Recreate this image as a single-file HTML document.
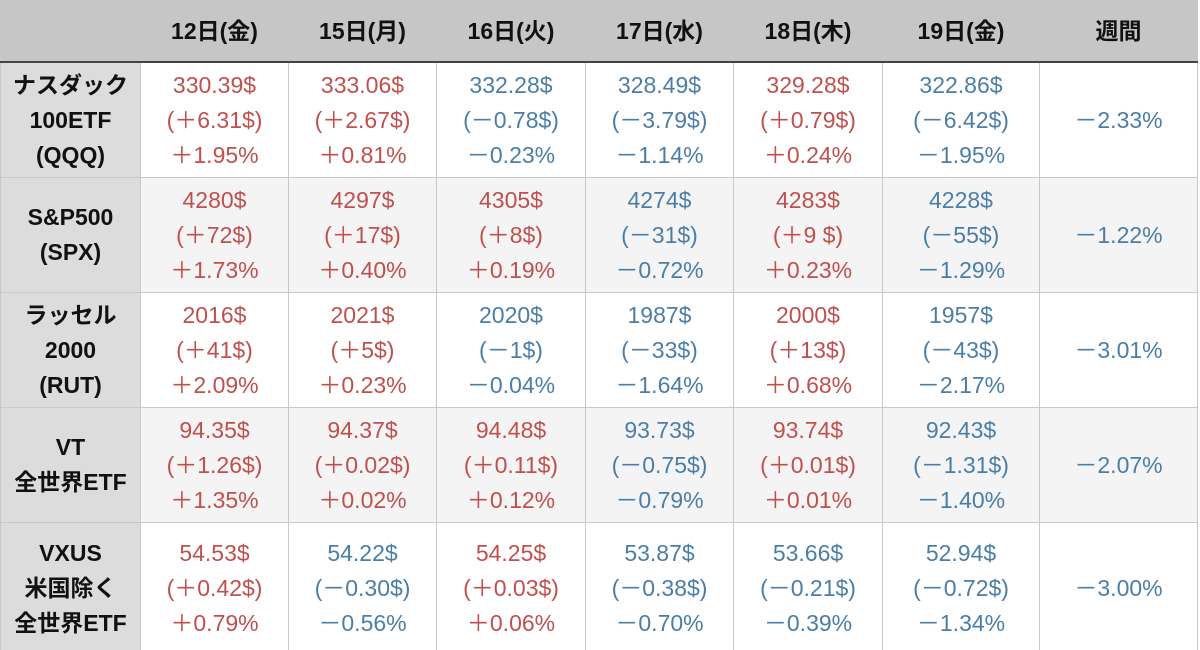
<!DOCTYPE html>
<html><head><meta charset="utf-8"><style>
html,body{margin:0;padding:0;width:1200px;height:650px;overflow:hidden;background:#fff;}
table{border-collapse:collapse;table-layout:fixed;width:1197px;font-family:"Liberation Sans","Noto Sans CJK JP",sans-serif;}
td,th{border:1px solid #c8c8c8;text-align:center;vertical-align:middle;padding:0;font-size:23px;line-height:35px;}
th{background:#c6c6c6;font-weight:bold;color:#111;height:60px;border-bottom:2px solid #444;}
tbody td{height:114px;}
tbody tr.last td{height:130px;}
td.name{background:#dcdcdc;font-weight:bold;color:#111;}
tr.alt td{background:#f4f4f4;}
tr.alt td.name{background:#dcdcdc;}
.r{color:#c0504d;}.b{color:#4a7ea8;}
</style></head><body>
<table>
<colgroup><col style="width:140px"><col style="width:148px"><col style="width:148px"><col style="width:149px"><col style="width:148px"><col style="width:149px"><col style="width:157px"><col style="width:158px"></colgroup>
<thead><tr>
<th></th>
<th>12日(金)</th>
<th>15日(月)</th>
<th>16日(火)</th>
<th>17日(水)</th>
<th>18日(木)</th>
<th>19日(金)</th>
<th>週間</th>
</tr></thead>
<tbody>
<tr>
<td class="name">ナスダック<br>100ETF<br>(QQQ)</td>
<td class="r">330.39$<br>(＋6.31$)<br>＋1.95%</td>
<td class="r">333.06$<br>(＋2.67$)<br>＋0.81%</td>
<td class="b">332.28$<br>(－0.78$)<br>－0.23%</td>
<td class="b">328.49$<br>(－3.79$)<br>－1.14%</td>
<td class="r">329.28$<br>(＋0.79$)<br>＋0.24%</td>
<td class="b">322.86$<br>(－6.42$)<br>－1.95%</td>
<td class="b">－2.33%</td>
</tr>
<tr class="alt">
<td class="name">S&amp;P500<br>(SPX)</td>
<td class="r">4280$<br>(＋72$)<br>＋1.73%</td>
<td class="r">4297$<br>(＋17$)<br>＋0.40%</td>
<td class="r">4305$<br>(＋8$)<br>＋0.19%</td>
<td class="b">4274$<br>(－31$)<br>－0.72%</td>
<td class="r">4283$<br>(＋9 $)<br>＋0.23%</td>
<td class="b">4228$<br>(－55$)<br>－1.29%</td>
<td class="b">－1.22%</td>
</tr>
<tr>
<td class="name">ラッセル<br>2000<br>(RUT)</td>
<td class="r">2016$<br>(＋41$)<br>＋2.09%</td>
<td class="r">2021$<br>(＋5$)<br>＋0.23%</td>
<td class="b">2020$<br>(－1$)<br>－0.04%</td>
<td class="b">1987$<br>(－33$)<br>－1.64%</td>
<td class="r">2000$<br>(＋13$)<br>＋0.68%</td>
<td class="b">1957$<br>(－43$)<br>－2.17%</td>
<td class="b">－3.01%</td>
</tr>
<tr class="alt">
<td class="name">VT<br>全世界ETF</td>
<td class="r">94.35$<br>(＋1.26$)<br>＋1.35%</td>
<td class="r">94.37$<br>(＋0.02$)<br>＋0.02%</td>
<td class="r">94.48$<br>(＋0.11$)<br>＋0.12%</td>
<td class="b">93.73$<br>(－0.75$)<br>－0.79%</td>
<td class="r">93.74$<br>(＋0.01$)<br>＋0.01%</td>
<td class="b">92.43$<br>(－1.31$)<br>－1.40%</td>
<td class="b">－2.07%</td>
</tr>
<tr class="last">
<td class="name">VXUS<br>米国除く<br>全世界ETF</td>
<td class="r">54.53$<br>(＋0.42$)<br>＋0.79%</td>
<td class="b">54.22$<br>(－0.30$)<br>－0.56%</td>
<td class="r">54.25$<br>(＋0.03$)<br>＋0.06%</td>
<td class="b">53.87$<br>(－0.38$)<br>－0.70%</td>
<td class="b">53.66$<br>(－0.21$)<br>－0.39%</td>
<td class="b">52.94$<br>(－0.72$)<br>－1.34%</td>
<td class="b">－3.00%</td>
</tr>
</tbody></table>
</body></html>
